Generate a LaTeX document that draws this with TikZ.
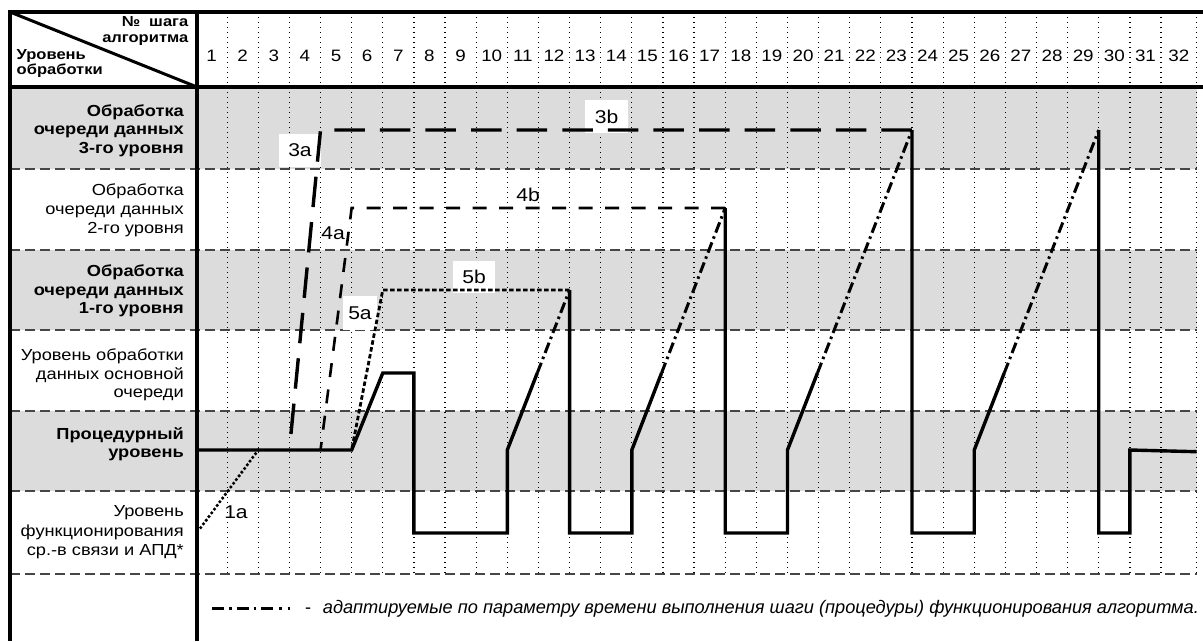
\documentclass[tikz,border=0pt]{standalone}
\usepackage{fontspec}
\setmainfont{Liberation Sans}[FakeStretch=1.14]
\newfontfamily\legendfont{Liberation Sans}
\usetikzlibrary{calc}
\definecolor{rowgray}{RGB}{220,220,220}
\definecolor{sepgray}{RGB}{70,70,70}
\begin{document}
\begin{tikzpicture}[x=1pt,y=-1pt,
  frame/.style={line width=4pt},
  gridline/.style={line width=1.2pt, dash pattern=on 1.2pt off 3.8pt, black},
  sep/.style={line width=1.3pt, sepgray, dash pattern=on 10pt off 5pt},
  mainline/.style={line width=3.4pt},
  adapt/.style={line width=3pt, dash pattern=on 11pt off 4pt on 2.5pt off 4pt},
  lthree/.style={line width=3.4pt, dash pattern=on 30.5pt off 15.1pt},
  lfour/.style={line width=2.6pt, dash pattern=on 14pt off 12.5pt},
  lfive/.style={line width=2.8pt, dash pattern=on 4.5pt off 2.5pt},
  lone/.style={line width=3.6pt, line cap=round, dash pattern=on 0pt off 4.6pt},
  lbl/.style={font=\fontsize{18.5}{20}\selectfont, inner sep=0pt},
  lblbox/.style={lbl, fill=white, minimum width=42pt, minimum height=33pt},
  rowtxt/.style={font=\fontsize{16}{18}\selectfont, anchor=base east, inner sep=0pt},
  rowbold/.style={font=\fontsize{16}{18}\selectfont\bfseries, anchor=base east, inner sep=0pt},
  hdr/.style={font=\fontsize{14.5}{16}\selectfont\bfseries, inner sep=0pt},
  num/.style={font=\fontsize{16.5}{18}\selectfont, anchor=base, inner sep=0pt},
  legendline/.style={line width=3pt, dash pattern=on 12pt off 5pt on 2.5pt off 5pt on 12pt off 5pt on 2.5pt off 5pt on 12pt off 6pt on 2.5pt off 6pt on 2.5pt off 20pt},
]
\useasboundingbox (0,0) rectangle (1203,641);
% shaded rows
\foreach \a/\b in {87/169,250/330,411/491} \fill[rowgray] (10,\a) rectangle (1196.7,\b);
% column boundaries
\foreach \k in {0,...,31} \coordinate (c\k) at ({196+\k*31.13},0);
\coordinate (c32) at (1196.7,0);
\coordinate (gtop) at (0,12);
\coordinate (gbot) at (0,574);
% levels
\coordinate (L3) at (0,130);
\coordinate (L2) at (0,208);
\coordinate (L1) at (0,290);
\coordinate (LM) at (0,373);
\coordinate (LP) at (0,450);
\coordinate (LC) at (0,533);
% dotted grid
\foreach \k in {1,...,32} \draw[gridline] (c\k |- gtop) -- (c\k |- gbot);
% step numbers
\foreach \k in {1,...,31} \node[num] (n\k) at ({196+(\k-0.5)*31.13},61.7) {\k};
\node[num] (n32) at (1178.9,61.7) {32};
% row separators
\foreach \y in {169,250,330,411,491,574} \draw[sep] (10,\y) -- (1196.7,\y);
% frame
\draw[frame] (10,641) -- (10,12) -- (1203,12);
\draw[frame] (10,87) -- (1203,87);
\draw[frame] (197,12) -- (197,641);
\draw[line width=3pt] (10,12) -- (197,87);
% header texts
\node[hdr, anchor=base east] (h1) at (188.5,26.7) {№\hspace{9pt}шага};
\node[hdr, anchor=base east] (h2) at (188.5,42.3) {алгоритма};
\node[hdr, anchor=base west] (h3) at (16.5,59.3) {Уровень};
\node[hdr, anchor=base west] (h4) at (16.5,74) {обработки};
% row texts
\node[rowbold] (a1) at (184,116) {Обработка};
\node[rowbold] (a2) at (184,134.5) {очереди данных};
\node[rowbold] (a3) at (184,153) {3-го уровня};
\node[rowtxt] (b1) at (184,195) {Обработка};
\node[rowtxt] (b2) at (184,214) {очереди данных};
\node[rowtxt] (b3) at (184,233) {2-го уровня};
\node[rowbold] (d1) at (184,276.7) {Обработка};
\node[rowbold] (d2) at (184,295) {очереди данных};
\node[rowbold] (d3) at (184,313.3) {1-го уровня};
\node[rowtxt] (e1) at (184,360) {Уровень обработки};
\node[rowtxt] (e2) at (184,379.3) {данных основной};
\node[rowtxt] (e3) at (184,397.7) {очереди};
\node[rowbold] (f1) at (184,439) {Процедурный};
\node[rowbold] (f2) at (184,457.7) {уровень};
\node[rowtxt] (g1) at (184,516.7) {Уровень};
\node[rowtxt] (g2) at (184,536.7) {функционирования};
\node[rowtxt] (g3) at (184,555) {ср.-в связи и АПД*};
% labels
\node[lblbox] (t3a) at (300,150) {3a};
\node[lblbox, minimum width=43pt] (t3b) at (606.5,116.5) {3b};
\node[lbl] (t4a) at (333,233) {4a};
\node[lbl] (t4b) at (528,195) {4b};
\node[lblbox, minimum width=34pt, minimum height=34pt] (t5a) at (360,313) {5a};
\node[lblbox, minimum height=32pt] (t5b) at (474,277) {5b};
\node[lbl] (t1a) at (236,512) {1a};
% key points
\coordinate (s0) at (c0 |- LP);
\coordinate (lmA) at (c0 |- LM);
\coordinate (lmB) at (c32 |- LM);
\coordinate (r1s) at (c10 |- LP); \coordinate (r1e) at (c12 |- L1);
\coordinate (r2s) at (c14 |- LP); \coordinate (r2e) at (c17 |- L2);
\coordinate (r3s) at (c19 |- LP); \coordinate (r3e) at (c23 |- L3);
\coordinate (r4s) at (c25 |- LP); \coordinate (r4e) at (c29 |- L3);
\coordinate (m1) at (intersection of r1s--r1e and lmA--lmB);
\coordinate (m2) at (intersection of r2s--r2e and lmA--lmB);
\coordinate (m3) at (intersection of r3s--r3e and lmA--lmB);
\coordinate (m4) at (intersection of r4s--r4e and lmA--lmB);
\coordinate (endp) at (1196.7,451.7);
\coordinate (oneA) at (199,530);
% dashed transitions
\draw[lthree] (c23 |- L3) -- (c4 |- L3) -- (c3 |- LP);
\draw[lfour] (c17 |- L2) -- (c5 |- L2) -- (c4 |- LP);
\draw[lfive] (c12 |- L1) -- (c6 |- L1) -- (c5 |- LP);
\draw[lone] (c2 |- LP) -- (oneA);
% adaptive steps
\draw[adapt] (m1) -- (r1e);
\draw[adapt] (m2) -- (r2e);
\draw[adapt] (m3) -- (r3e);
\draw[adapt] (m4) -- (r4e);
% main solid line
\draw[mainline] (s0) -- (c5 |- LP) -- (c6 |- LM) -- (c7 |- LM) -- (c7 |- LC) -- (c10 |- LC) -- (r1s) -- (m1);
\draw[mainline] (r1e) -- (c12 |- LC) -- (c14 |- LC) -- (r2s) -- (m2);
\draw[mainline] (r2e) -- (c17 |- LC) -- (c19 |- LC) -- (r3s) -- (m3);
\draw[mainline] (r3e) -- (c23 |- LC) -- (c25 |- LC) -- (r4s) -- (m4);
\draw[mainline] (r4e) -- (c29 |- LC) -- (c30 |- LC) -- (c30 |- LP) -- (endp);
% legend
\coordinate (lgA) at (212,608);
\coordinate (lgB) at (290,608);
\draw[legendline] (lgA) -- (lgB);
\node[font=\legendfont\fontsize{18.2}{20}\selectfont, anchor=base west, inner sep=0pt] (lgdash) at (305,613) {-};
\node[font=\legendfont\fontsize{18.2}{20}\selectfont\itshape, anchor=base west, inner sep=0pt] (lgtext) at (322.7,613) {адаптируемые по параметру времени выполнения шаги (процедуры) функционирования алгоритма.};
\end{tikzpicture}
\end{document}
